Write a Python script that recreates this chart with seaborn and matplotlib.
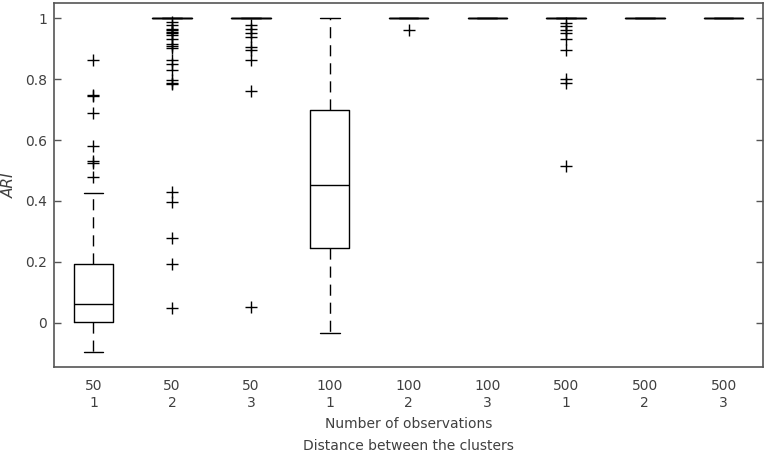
import matplotlib
matplotlib.use('Agg')
import matplotlib.pyplot as plt
import numpy as np
import pandas as pd
import seaborn as sns

sns.set_style('white')
plt.rcParams['font.family'] = ['DejaVu Sans']

# 横轴分组: 观测数 / 簇间距离
n_obs = ['50', '50', '50', '100', '100', '100', '500', '500', '500']
distance = ['1', '2', '3', '1', '2', '3', '1', '2', '3']
group_labels = [f'{n}\n{d}' for n, d in zip(n_obs, distance)]

# 箱线图五数概括
whisker_lo = [-0.095, 1.0, 1.0, -0.033, 1.0, 1.0, 1.0, 1.0, 1.0]
q1 = [0.003, 1.0, 1.0, 0.246, 1.0, 1.0, 1.0, 1.0, 1.0]
median = [0.062, 1.0, 1.0, 0.452, 1.0, 1.0, 1.0, 1.0, 1.0]
q3 = [0.192, 1.0, 1.0, 0.700, 1.0, 1.0, 1.0, 1.0, 1.0]
whisker_hi = [0.425, 1.0, 1.0, 1.0, 1.0, 1.0, 1.0, 1.0, 1.0]

# 离群点
out_50_1 = [0.862, 0.748, 0.744, 0.688, 0.581, 0.530, 0.525, 0.480]
out_50_2 = [0.988, 0.977, 0.966, 0.960, 0.955, 0.950, 0.945, 0.933, 0.917,
            0.909, 0.901, 0.862, 0.849, 0.830, 0.797, 0.788, 0.783,
            0.428, 0.396, 0.278, 0.192, 0.050]
out_50_3 = [0.977, 0.966, 0.950, 0.937, 0.904, 0.895, 0.862, 0.762, 0.053]
out_100_1 = []
out_100_2 = [0.961]
out_100_3 = []
out_500_1 = [0.985, 0.974, 0.963, 0.952, 0.933, 0.895, 0.800, 0.786, 0.516]
out_500_2 = []
out_500_3 = []
outliers = [out_50_1, out_50_2, out_50_3, out_100_1, out_100_2, out_100_3,
            out_500_1, out_500_2, out_500_3]

box_rows = []
for i, g in enumerate(group_labels):
    for v in (whisker_lo[i], q1[i], median[i], q3[i], whisker_hi[i]):
        box_rows.append({'group': g, 'ari': v})
box_df = pd.DataFrame(box_rows)

out_rows = [{'group': g, 'ari': v} for g, vals in zip(group_labels, outliers) for v in vals]
out_df = pd.DataFrame(out_rows)

fig = plt.figure(figsize=(7.67, 4.55), dpi=100)
ax = fig.add_axes([54 / 767, 1 - 367 / 455, 709 / 767, 364 / 455])

sns.boxplot(data=box_df, x='group', y='ari', order=group_labels, ax=ax,
            fill=False, color='black', width=0.5, linewidth=1.0,
            showfliers=False, whis=1.5,
            whiskerprops=dict(linestyle=(0, (8, 5))))

sns.stripplot(data=out_df, x='group', y='ari', order=group_labels, ax=ax,
              jitter=False, marker='+', color='black', size=9, linewidth=1.0)

ax.set_xlim(-0.5, 8.5)
ax.set_ylim(-0.145, 1.05)

text_color = '#404040'
ax.set_yticks([0, 0.2, 0.4, 0.6, 0.8, 1.0])
ax.set_yticklabels(['0', '0.2', '0.4', '0.6', '0.8', '1'], fontsize=10, color=text_color)
ax.set_xticks(range(len(group_labels)))
ax.set_xticklabels(group_labels, fontsize=10, color=text_color, linespacing=1.3)
ax.tick_params(axis='y', direction='in', length=5, left=True, right=True,
               color='#555555', width=1.0, pad=5)
ax.tick_params(axis='x', bottom=False, pad=5)

for s in ax.spines.values():
    s.set_visible(True)
    s.set_color('#555555')
    s.set_linewidth(1.2)

ax.set_ylabel('ARI', fontsize=11, style='italic', color=text_color)
ax.yaxis.set_label_coords(-0.052, 0.5)
ax.set_xlabel('Number of observations\nDistance between the clusters',
              fontsize=10, color=text_color, linespacing=1.7, labelpad=5)

plt.savefig('out.png', dpi=100)
